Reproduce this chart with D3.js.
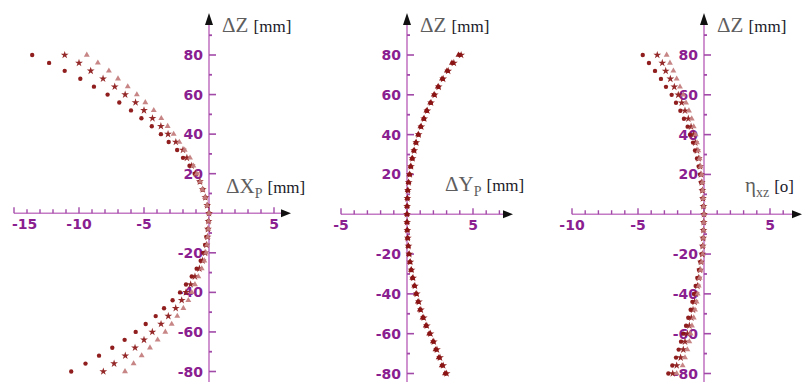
<!DOCTYPE html>
<html><head><meta charset="utf-8">
<script src="https://cdn.jsdelivr.net/npm/d3@7"></script>
<style>body{margin:0;background:#fff}svg{display:block}</style>
</head><body><svg id="c" width="803" height="382"></svg>
<script>
// ---- data ----
const zLevels = [80,76,72,68,64,60,56,52,48,44,40,36,32,28,24,20,16,12,8,4,0,-4,-8,-12,-16,-20,-24,-28,-32,-36,-40,-44,-48,-52,-56,-60,-64,-68,-72,-76,-80];

const dxA = [-13.6,-12.3,-11.1,-9.9,-8.85,-7.8,-6.9,-6.0,-5.2,-4.4,-3.7,-3.1,-2.45,-2.0,-1.5,-1.1,-0.72,-0.48,-0.28,-0.12,0,-0.05,-0.1,-0.2,-0.3,-0.44,-0.64,-0.95,-1.33,-1.77,-2.23,-2.8,-3.46,-4.1,-4.87,-5.64,-6.49,-7.44,-8.46,-9.5,-10.6];
const dxB = [-11.1,-10.0,-9.1,-8.15,-7.25,-6.45,-5.65,-5.0,-4.35,-3.7,-3.15,-2.55,-2.0,-1.7,-1.33,-1.0,-0.7,-0.48,-0.28,-0.14,0,-0.04,-0.08,-0.12,-0.2,-0.3,-0.49,-0.74,-1.08,-1.41,-1.77,-2.1,-2.56,-3.13,-3.69,-4.36,-5.0,-5.69,-6.44,-7.3,-8.13];
const dxC = [-9.4,-8.55,-7.7,-7.0,-6.25,-5.55,-4.9,-4.25,-3.67,-3.18,-2.72,-2.28,-1.87,-1.46,-1.2,-0.95,-0.68,-0.5,-0.3,-0.15,0,-0.03,-0.05,-0.1,-0.15,-0.23,-0.36,-0.56,-0.82,-1.08,-1.33,-1.59,-1.97,-2.44,-2.87,-3.36,-3.95,-4.54,-5.18,-5.8,-6.46];

const dyA = [4.0,3.46,3.08,2.7,2.38,2.07,1.8,1.5,1.29,1.05,0.86,0.68,0.53,0.4,0.28,0.2,0.12,0.06,0.03,0.01,0,0.0,0.02,0.05,0.1,0.15,0.23,0.32,0.43,0.57,0.7,0.85,1.0,1.22,1.46,1.72,2.0,2.2,2.45,2.68,2.93];
const dyB = [4.1,3.55,3.12,2.74,2.4,2.1,1.82,1.54,1.3,1.08,0.88,0.7,0.55,0.42,0.3,0.21,0.13,0.07,0.03,0.01,0,0.01,0.03,0.06,0.11,0.17,0.25,0.34,0.46,0.6,0.74,0.9,1.05,1.27,1.5,1.78,2.03,2.27,2.5,2.74,3.0];
const dyC = [3.9,3.4,3.02,2.65,2.33,2.03,1.76,1.47,1.26,1.02,0.84,0.66,0.51,0.38,0.27,0.18,0.11,0.05,0.02,0.0,0,0,0.01,0.04,0.09,0.14,0.21,0.3,0.41,0.55,0.67,0.82,0.97,1.18,1.42,1.68,1.96,2.16,2.4,2.63,2.88];

const etaA = [-4.64,-4.17,-3.71,-3.26,-2.88,-2.45,-2.12,-1.79,-1.52,-1.24,-1.06,-0.83,-0.68,-0.53,-0.4,-0.3,-0.23,-0.15,-0.1,-0.05,0,-0.02,-0.05,-0.08,-0.12,-0.18,-0.28,-0.38,-0.5,-0.63,-0.76,-0.88,-1.01,-1.19,-1.36,-1.57,-1.74,-1.92,-2.12,-2.4,-2.7];
const etaB = [-3.54,-3.16,-2.9,-2.55,-2.25,-1.95,-1.69,-1.44,-1.19,-0.98,-0.81,-0.66,-0.53,-0.4,-0.3,-0.23,-0.17,-0.12,-0.08,-0.04,0,-0.02,-0.04,-0.06,-0.1,-0.13,-0.23,-0.3,-0.4,-0.5,-0.61,-0.71,-0.83,-0.96,-1.11,-1.26,-1.44,-1.57,-1.77,-2.07,-2.37];
const etaC = [-2.83,-2.58,-2.32,-2.07,-1.82,-1.56,-1.36,-1.14,-0.93,-0.78,-0.63,-0.53,-0.43,-0.33,-0.25,-0.18,-0.12,-0.1,-0.06,-0.03,0,-0.01,-0.03,-0.05,-0.07,-0.1,-0.18,-0.25,-0.33,-0.4,-0.48,-0.56,-0.68,-0.78,-0.91,-1.01,-1.11,-1.26,-1.44,-1.62,-2.07];

const yTickLabels = [80,60,40,20,-20,-40,-60,-80];
const xTickLabels1 = [-15,-10,-5,5];
const xTickLabels2 = [-5,5];
const xTickLabels3 = [-10,-5,5];

// ---- drawing ----
const svg = d3.select('#c');
svg.append('rect').attr('width',803).attr('height',382).attr('fill','#fff');

const AXIS = '#c47ac4', TICK = '#a24aa8', LABEL = '#8a2090';
const seriesStyle = [
  {type: d3.symbolCircle, size: 15, fill: '#8a1212'},
  {type: d3.symbolStar, size: 19, fill: '#8e1c1c'},
  {type: d3.symbolTriangle, size: 15, fill: '#c47e7e'}
];

const panels = [
  {xDom:[-15,5], xRng:[14,274], yRng:[371.5,55], minor:[-15,5], tip:291, labels:xTickLabels1, series:[dxA,dxB,dxC], dark:false,
   title:{x:226,y:193,main:'ΔX',sub:'P',unit:'[mm]'}, ztitle:{x:222,y:32}},
  {xDom:[-5,5], xRng:[341,473], yRng:[373.5,55], minor:[-5,7], tip:513, labels:xTickLabels2, series:[dyA,dyB,dyC], dark:true,
   title:{x:445,y:191,main:'ΔY',sub:'P',unit:'[mm]'}, ztitle:{x:420,y:32}},
  {xDom:[-10,5], xRng:[572,770], yRng:[373.5,55], minor:[-10,6], tip:802, labels:xTickLabels3, series:[etaA,etaB,etaC], dark:false,
   title:{x:745,y:192,main:'η',sub:'xz',unit:'[o]'}, ztitle:{x:717,y:32}}
];

panels.forEach(p => {
  const x = d3.scaleLinear().domain(p.xDom).range(p.xRng);
  const y = d3.scaleLinear().domain([-80,80]).range(p.yRng);
  const g = svg.append('g');
  const ax = x(0), ay = y(0);

  // y axis line + arrow
  g.append('line').attr('x1',ax).attr('x2',ax).attr('y1',22).attr('y2',382)
    .attr('stroke',AXIS).attr('stroke-width',1.6);
  g.append('path').attr('d',`M${ax},13 L${ax-4},25 L${ax+4},25 Z`).attr('fill','#111');
  for (let v=-90; v<=90; v+=10) {
    if (v===0) continue;
    const major = v%20===0;
    g.append('line').attr('x1',ax).attr('x2',ax+(major?7:3)).attr('y1',y(v)).attr('y2',y(v))
      .attr('stroke',TICK).attr('stroke-width',major?1.6:1.8);
  }
  g.selectAll('text.yl').data(yTickLabels).join('text').attr('class','yl')
    .attr('x',ax-6).attr('y',d=>y(d)).attr('dy','0.36em').attr('text-anchor','end')
    .attr('font-family','DejaVu Sans').attr('font-weight','bold').attr('font-size',14)
    .attr('fill',LABEL).text(d=>d);

  // x axis line + arrow
  g.append('line').attr('x1',x(p.xDom[0])).attr('x2',p.tip-6).attr('y1',ay).attr('y2',ay)
    .attr('stroke',AXIS).attr('stroke-width',1.6);
  g.append('path').attr('d',`M${p.tip},${ay} L${p.tip-10},${ay-4} L${p.tip-10},${ay+4} Z`).attr('fill','#111');
  for (let v=p.minor[0]; v<=p.minor[1]; v++) {
    const major = v%5===0;
    g.append('line').attr('x1',x(v)).attr('x2',x(v)).attr('y1',ay).attr('y2',ay-(major?6:4))
      .attr('stroke',TICK).attr('stroke-width',1.4);
  }
  g.selectAll('text.xl').data(p.labels).join('text').attr('class','xl')
    .attr('x',d=>x(d)).attr('y',ay+16).attr('text-anchor','middle')
    .attr('font-family','DejaVu Sans').attr('font-weight','bold').attr('font-size',14)
    .attr('fill',LABEL).text(d=>d)
    .each(function(){
      const w = this.getComputedTextLength();
      const cx = +this.getAttribute('x');
      if (cx - w/2 < 12) this.setAttribute('x', 12 + w/2);
    });

  // points
  p.series.forEach((vals, si) => {
    const st = seriesStyle[si];
    const sym = d3.symbol().type(st.type).size(st.size);
    g.selectAll(null).data(vals.map((v,i)=>({v, z:zLevels[i]}))).join('path')
      .attr('d', sym).attr('transform', d=>`translate(${x(d.v)},${y(d.z)})`)
      .attr('fill', p.dark ? '#8a1414' : st.fill).attr('opacity',0.95);
  });

  // axis titles
  const zt = g.append('text').attr('x',p.ztitle.x).attr('y',p.ztitle.y).attr('font-family','Liberation Serif');
  zt.append('tspan').attr('font-size',21).attr('fill','#5e5e5e').text('ΔZ ');
  zt.append('tspan').attr('font-size',17).attr('fill','#1a1a2a').text('[mm]');

  const t = g.append('text').attr('x',p.title.x).attr('y',p.title.y).attr('font-family','Liberation Serif');
  t.append('tspan').attr('font-size',21).attr('fill','#5e5e5e').text(p.title.main);
  t.append('tspan').attr('font-size',14).attr('dy',5).attr('fill','#5e5e5e').text(p.title.sub);
  t.append('tspan').attr('font-size',17).attr('dy',-5).attr('dx',5).attr('fill','#1a1a2a').text(p.title.unit);
});
</script></body></html>
